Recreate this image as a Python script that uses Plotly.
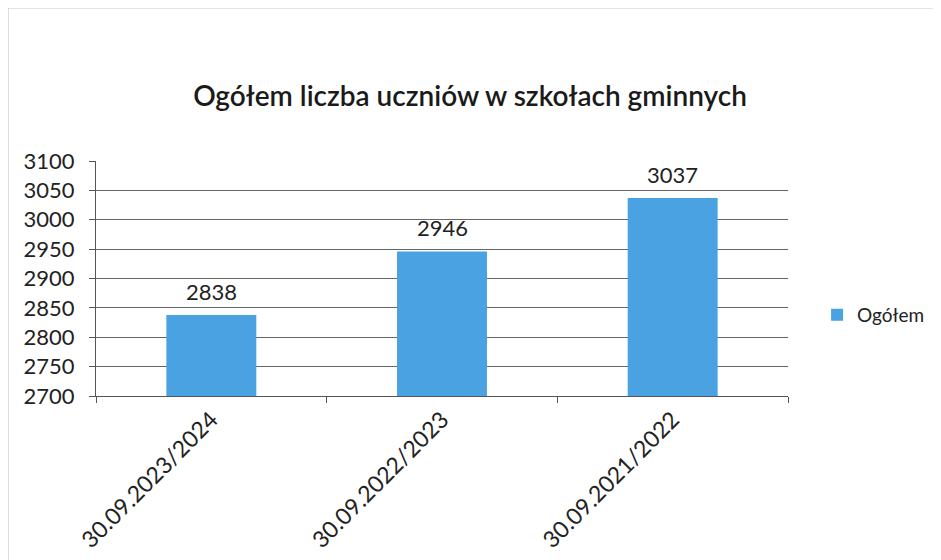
import plotly.graph_objects as go

categories = ["30.09.2023/2024", "30.09.2022/2023", "30.09.2021/2022"]
values = [2838, 2946, 3037]
series_name = "Ogółem"
title_text = "Ogółem liczba uczniów w szkołach gminnych"

BAR_COLOR = "#4aa2e2"
FONT = "Lato, 'Open Sans', sans-serif"

fig = go.Figure()
fig.add_trace(go.Bar(
    x=categories,
    y=values,
    name=series_name,
    marker=dict(color=BAR_COLOR, line=dict(width=0)),
    width=0.39,
))

# value labels floated a bit above each bar, like the Excel original
for cat, val in zip(categories, values):
    fig.add_annotation(
        x=cat, y=val, text=str(val),
        showarrow=False, yanchor="bottom", yshift=8,
        font=dict(size=22, color="#222222"),
    )

fig.update_layout(
    width=941,
    height=560,
    margin=dict(l=88, r=161, t=153, b=172),
    plot_bgcolor="#ffffff",
    paper_bgcolor="#ffffff",
    font=dict(family=FONT, size=21, color="#222222"),
    title=dict(
        text=title_text,
        x=0.491, xref="container", xanchor="center",
        y=0.843, yref="container", yanchor="middle",
        font=dict(size=28, color="#1a1a1a", family=FONT, weight=600),
    ),
    showlegend=True,
    legend=dict(
        x=1.042, y=0.345, xanchor="left", yanchor="middle",
        font=dict(size=19, color="#222222"),
        itemwidth=30,
    ),
    shapes=[dict(
        type="rect", xref="paper", yref="paper",
        x0=-0.127, x1=1.215, y0=-0.72, y1=1.651,
        line=dict(color="#c8c8c8", width=1),
    )],
)

fig.update_xaxes(
    tickangle=-45,
    showline=True, linecolor="#555555", linewidth=1,
    ticks="outside", tickcolor="#555555", ticklen=6,
    tickson="boundaries",
    tickfont=dict(size=23),
)
fig.update_yaxes(
    range=[2700, 3100],
    dtick=50,
    showgrid=True, gridcolor="#666666", gridwidth=1,
    showline=True, linecolor="#555555", linewidth=1,
    ticks="outside", tickcolor="#555555", ticklen=6,
    ticklabelstandoff=10,
    zeroline=False,
    tickfont=dict(size=22),
)

fig.write_html("out.html")
